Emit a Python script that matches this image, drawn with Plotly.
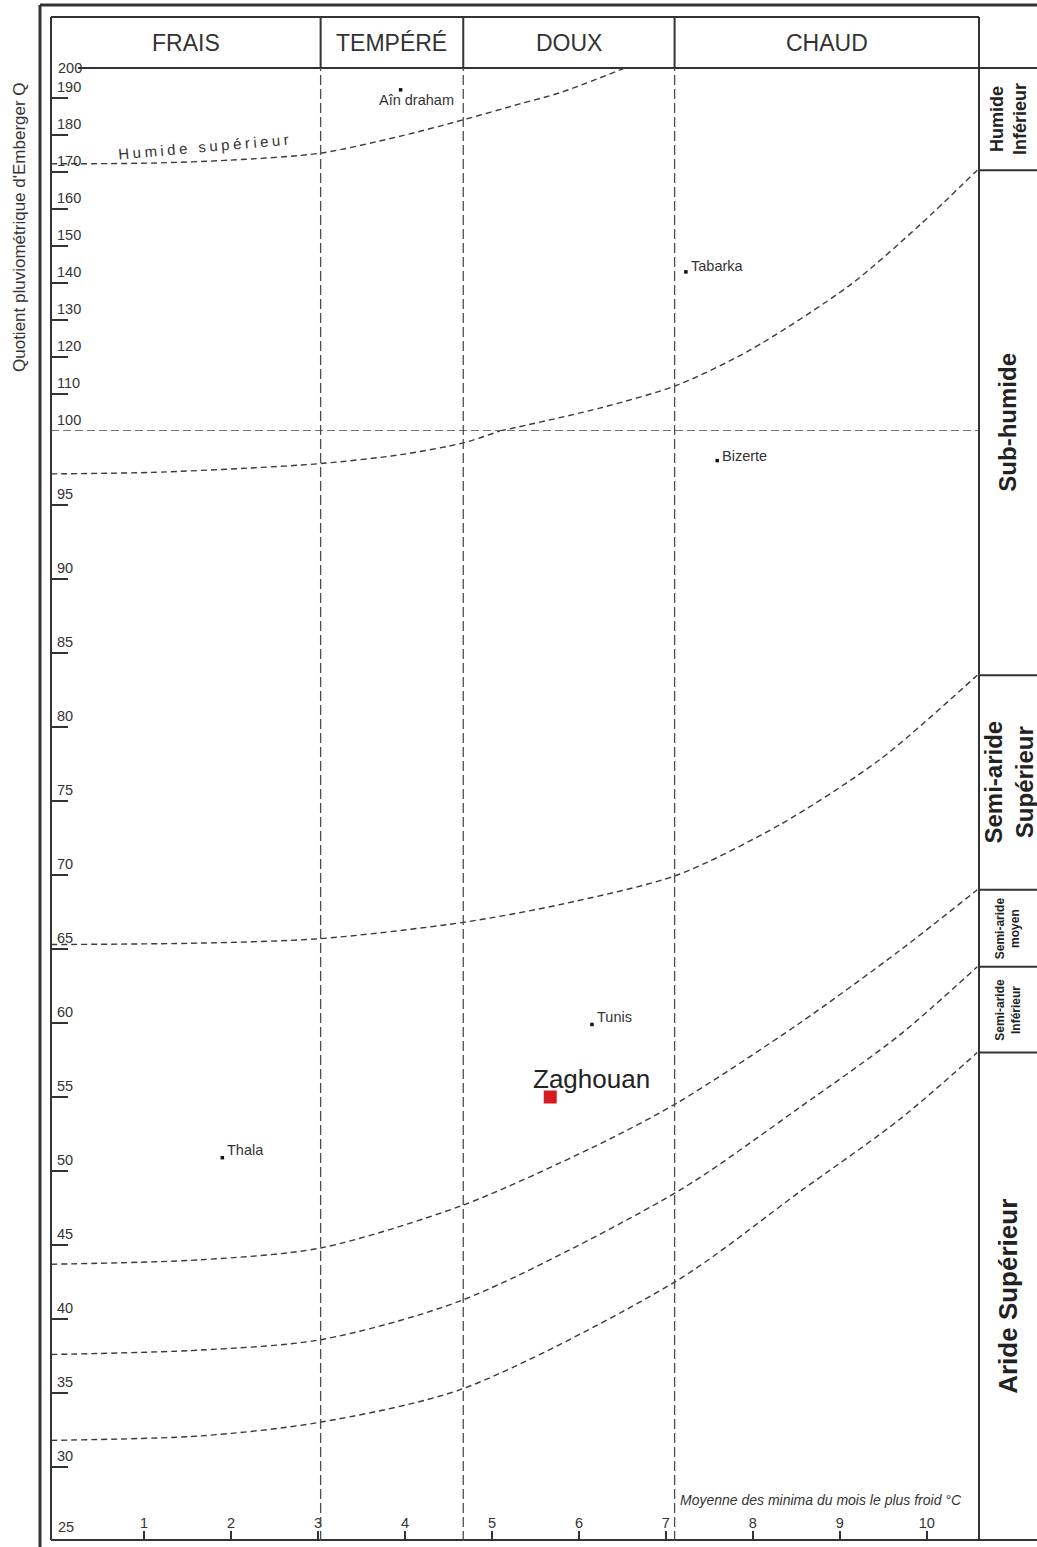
import plotly.graph_objects as go

# ---------------- data ----------------
temp_classes = ["FRAIS", "TEMPÉRÉ", "DOUX", "CHAUD"]
temp_bounds = [-0.07, 3.03, 4.67, 7.1, 10.6]

x_ticks = [1, 2, 3, 4, 5, 6, 7, 8, 9, 10]
q_ticks_low = [25, 30, 35, 40, 45, 50, 55, 60, 65, 70, 75, 80, 85, 90, 95]
q_ticks_high = [100, 110, 120, 130, 140, 150, 160, 170, 180, 190]
q_top_label = "200"
q_bottom_label = "25"

# Emberger bioclimatic boundary curves: m (°C) and Q
humide_sup_m = [-0.07, 1.07, 1.99, 3.03, 3.95, 4.67, 5.32, 5.78, 6.53]
humide_sup_q = [172.2, 172.4, 173.2, 175.1, 179.7, 184.1, 188.4, 191.4, 198.1]

subhumide_m = [-0.07, 1.07, 2.22, 3.03, 3.95, 4.67, 5.09, 6.24, 7.13, 7.97, 9.12, 9.92, 10.58]
subhumide_q = [97.1, 97.2, 97.5, 97.8, 98.4, 99.2, 100.0, 106.2, 112.4, 121.9, 139.5, 155.7, 170.5]

semi_sup_m = [-0.07, 1.65, 3.03, 4.67, 5.78, 7.13, 8.31, 9.46, 10.58]
semi_sup_q = [65.3, 65.4, 65.7, 66.8, 68.0, 70.0, 73.4, 77.8, 83.5]

semi_moy_m = [-0.07, 1.65, 3.03, 4.67, 6.16, 7.13, 8.54, 9.69, 10.58]
semi_moy_q = [43.7, 44.0, 44.8, 47.7, 51.6, 54.6, 60.0, 64.9, 69.0]

semi_inf_m = [-0.07, 1.65, 3.03, 4.67, 7.13, 8.54, 9.69, 10.58]
semi_inf_q = [37.6, 37.9, 38.6, 41.3, 48.6, 54.3, 59.2, 63.8]

aride_m = [-0.07, 1.65, 3.0, 4.67, 7.13, 8.54, 9.69, 10.58]
aride_q = [31.8, 32.1, 33.0, 35.3, 42.6, 48.6, 53.5, 58.0]

# right-hand bioclimatic zones (bottom, top Q)
zone_names = ["Humide<br>Inférieur", "Sub-humide", "Semi-aride<br>Supérieur",
              "Semi-aride<br>moyen", "Semi-aride<br>Inférieur", "Aride Supérieur"]
zone_bounds = [198.1, 170.5, 83.5, 69.0, 63.8, 58.0, 25.0]

# stations
stations = ["Aîn draham", "Tabarka", "Bizerte", "Tunis", "Thala"]
station_m = [3.95, 7.23, 7.59, 6.15, 1.90]
station_q = [192.2, 143.0, 98.0, 59.9, 50.9]

site_name = "Zaghouan"
site_m = 5.67
site_q = 55.0

x_title = "Moyenne des minima du mois le plus froid °C"
y_title = "Quotient pluviométrique d'Emberger Q"
curve_label = "Humide supérieur"

# ---------------- layout constants ----------------
W, H = 1037, 1547
ML, MR, MT, MB = 51, 58, 68, 6
PW = W - ML - MR
PH = H - MT - MB
Q_LOW = [25, 100]
Q_HIGH = [100, 198.1]
SPLIT = 1110 / PH  # fraction of plot height for the 25-100 scale

FONT = "Liberation Sans, Arial, sans-serif"
INK = "#333333"


def px_x(px):
    return (px - ML) / PW


def px_y(py):
    return (H - MB - py) / PH


def q_paper(q):
    if q <= 100:
        return SPLIT * (q - Q_LOW[0]) / (Q_LOW[1] - Q_LOW[0])
    return SPLIT + (1 - SPLIT) * (q - Q_HIGH[0]) / (Q_HIGH[1] - Q_HIGH[0])


fig = go.Figure()

curve_style = dict(color="#3a3a3a", width=1.4, dash="6px,4px", shape="spline", smoothing=0.8)


def add_curve(ms, qs):
    lo_m = [m for m, q in zip(ms, qs) if q <= 100]
    lo_q = [q for q in qs if q <= 100]
    hi_m = [m for m, q in zip(ms, qs) if q >= 100]
    hi_q = [q for q in qs if q >= 100]
    if len(lo_m) > 1:
        fig.add_trace(go.Scatter(x=lo_m, y=lo_q, mode="lines", line=curve_style,
                                 yaxis="y", hoverinfo="skip", showlegend=False))
    if len(hi_m) > 1:
        fig.add_trace(go.Scatter(x=hi_m, y=hi_q, mode="lines", line=curve_style,
                                 yaxis="y2", hoverinfo="skip", showlegend=False))


for ms, qs in [(humide_sup_m, humide_sup_q), (subhumide_m, subhumide_q),
               (semi_sup_m, semi_sup_q), (semi_moy_m, semi_moy_q),
               (semi_inf_m, semi_inf_q), (aride_m, aride_q)]:
    add_curve(ms, qs)

# station points
for ax, cond in [("y", lambda q: q <= 100), ("y2", lambda q: q > 100)]:
    xs = [m for m, q in zip(station_m, station_q) if cond(q)]
    ys = [q for q in station_q if cond(q)]
    fig.add_trace(go.Scatter(x=xs, y=ys, mode="markers", yaxis=ax,
                             marker=dict(symbol="square", size=3.5, color="#111"),
                             showlegend=False, hoverinfo="skip"))

fig.add_trace(go.Scatter(x=[site_m], y=[site_q], mode="markers", yaxis="y",
                         marker=dict(symbol="square", size=13, color="#d71920"),
                         showlegend=False, hoverinfo="skip"))

shapes = []
line_frame = dict(color=INK, width=2)

# outer frame
shapes.append(dict(type="line", xref="paper", yref="paper", x0=px_x(40), x1=px_x(1045),
                   y0=px_y(5), y1=px_y(5), line=dict(color=INK, width=3)))
shapes.append(dict(type="line", xref="paper", yref="paper", x0=px_x(40), x1=px_x(40),
                   y0=px_y(5), y1=px_y(1560), line=dict(color=INK, width=3)))
# inner frame
shapes.append(dict(type="line", xref="paper", yref="paper", x0=0, x1=0,
                   y0=px_y(17), y1=px_y(1540), line=line_frame))
shapes.append(dict(type="line", xref="paper", yref="paper", x0=0, x1=1,
                   y0=px_y(17), y1=px_y(17), line=line_frame))
shapes.append(dict(type="line", xref="paper", yref="paper", x0=px_x(78), x1=px_x(1045),
                   y0=1, y1=1, line=line_frame))
shapes.append(dict(type="line", xref="paper", yref="paper", x0=1, x1=1,
                   y0=px_y(17), y1=px_y(1540), line=line_frame))
shapes.append(dict(type="line", xref="paper", yref="paper", x0=0, x1=px_x(1045),
                   y0=px_y(1540), y1=px_y(1540), line=line_frame))

# header dividers and dashed verticals
for b in temp_bounds[1:-1]:
    shapes.append(dict(type="line", xref="x", yref="paper", x0=b, x1=b,
                       y0=1, y1=px_y(17), line=line_frame))
    shapes.append(dict(type="line", xref="x", yref="paper", x0=b, x1=b,
                       y0=0, y1=1, line=dict(color="#4d4d4d", width=1.3, dash="10px,4px")))

# horizontal dashed line at Q = 100
shapes.append(dict(type="line", xref="paper", yref="y2", x0=0, x1=1, y0=100, y1=100,
                   line=dict(color="#444", width=1.4, dash="8px,4px")))

# right column dividers
for zb in zone_bounds[1:-1]:
    shapes.append(dict(type="line", xref="paper", yref="paper", x0=1, x1=px_x(1045),
                       y0=q_paper(zb), y1=q_paper(zb), line=line_frame))

annotations = []
# header labels
for i, name in enumerate(temp_classes):
    annotations.append(dict(x=(temp_bounds[i] + temp_bounds[i + 1]) / 2, xref="x",
                            y=(1 + px_y(17)) / 2, yref="paper", text=name, showarrow=False,
                            xanchor="center", yanchor="middle",
                            font=dict(family=FONT, size=23, color=INK)))

# zone labels
zone_sizes = [18, 24, 24, 12, 12, 26]
for i, name in enumerate(zone_names):
    yc = (q_paper(zone_bounds[i]) + q_paper(zone_bounds[i + 1])) / 2
    annotations.append(dict(x=(1 + px_x(1037)) / 2, xref="paper", y=yc, yref="paper",
                            text="<b>" + name + "</b>", textangle=-90, showarrow=False,
                            xanchor="center", yanchor="middle",
                            font=dict(family=FONT, size=zone_sizes[i], color="#222")))

# station labels
label_offsets = {"Aîn draham": (-24, -10), "Tabarka": (3, 6), "Bizerte": (3, 5),
                 "Tunis": (3, 7), "Thala": (3, 8)}
for name, m, q in zip(stations, station_m, station_q):
    dx, dy = label_offsets[name]
    annotations.append(dict(x=m, y=q, xref="x", yref="y2" if q > 100 else "y",
                            text=name, showarrow=False, xanchor="left", yanchor="middle",
                            xshift=dx, yshift=dy,
                            font=dict(family=FONT, size=14.5, color=INK)))

annotations.append(dict(x=site_m, y=site_q, xref="x", yref="y", text=site_name,
                        showarrow=False, xanchor="left", yanchor="middle",
                        xshift=-19, yshift=18, font=dict(family=FONT, size=26, color="#222")))

# curve label
annotations.append(dict(x=1.7, y=175.8, xref="x", yref="y2", text=curve_label,
                        showarrow=False, textangle=-5, xanchor="center", yanchor="middle",
                        yshift=4, font=dict(family=FONT, size=15, color=INK)))

# axis titles and end labels
annotations.append(dict(x=px_x(19), y=px_y(227), xref="paper", yref="paper", text=y_title,
                        textangle=-90, showarrow=False, xanchor="center", yanchor="middle",
                        font=dict(family=FONT, size=17, color=INK)))
annotations.append(dict(x=px_x(678), y=px_y(1500), xref="paper", yref="paper",
                        text="<i>" + x_title + "</i>", showarrow=False,
                        xanchor="left", yanchor="middle",
                        font=dict(family=FONT, size=14, color=INK)))
annotations.append(dict(x=px_x(56), y=1, xref="paper", yref="paper", text=q_top_label,
                        showarrow=False, xanchor="left", yanchor="middle",
                        font=dict(family=FONT, size=14.5, color=INK)))
annotations.append(dict(x=px_x(56), y=0, xref="paper", yref="paper", text=q_bottom_label,
                        showarrow=False, xanchor="left", yanchor="bottom", yshift=4,
                        font=dict(family=FONT, size=14.5, color=INK)))

tick_common = dict(ticks="inside", tickcolor=INK, tickwidth=2, showgrid=False,
                   zeroline=False, showline=False,
                   tickfont=dict(family=FONT, size=14.5, color=INK))

fig.update_layout(
    width=W, height=H,
    margin=dict(l=ML, r=MR, t=MT, b=MB, pad=0),
    paper_bgcolor="white", plot_bgcolor="white",
    showlegend=False,
    xaxis=dict(range=[temp_bounds[0], temp_bounds[-1]], tickmode="array",
               tickvals=x_ticks, ticktext=[str(v) for v in x_ticks],
               ticklen=10, ticklabelposition="inside", anchor="y", **tick_common),
    yaxis=dict(range=Q_LOW, domain=[0, SPLIT], tickmode="array",
               tickvals=q_ticks_low[1:], ticktext=[str(v) for v in q_ticks_low[1:]],
               ticklen=17, ticklabelposition="inside top", ticklabelstandoff=3,
               anchor="x", **tick_common),
    yaxis2=dict(range=Q_HIGH, domain=[SPLIT, 1], tickmode="array",
                tickvals=q_ticks_high, ticktext=[str(v) for v in q_ticks_high],
                ticklen=17, ticklabelposition="inside top", ticklabelstandoff=3,
                anchor="x", **tick_common),
    shapes=shapes,
    annotations=annotations,
)

post = """
document.body.style.margin='0';
document.querySelectorAll('.annotation-text').forEach(function(t){
  if (t.textContent === %s) { t.style.letterSpacing = '3.5px'; }
});
""" % repr(curve_label)

fig.write_html("out.html", config={"displayModeBar": False}, post_script=post)
